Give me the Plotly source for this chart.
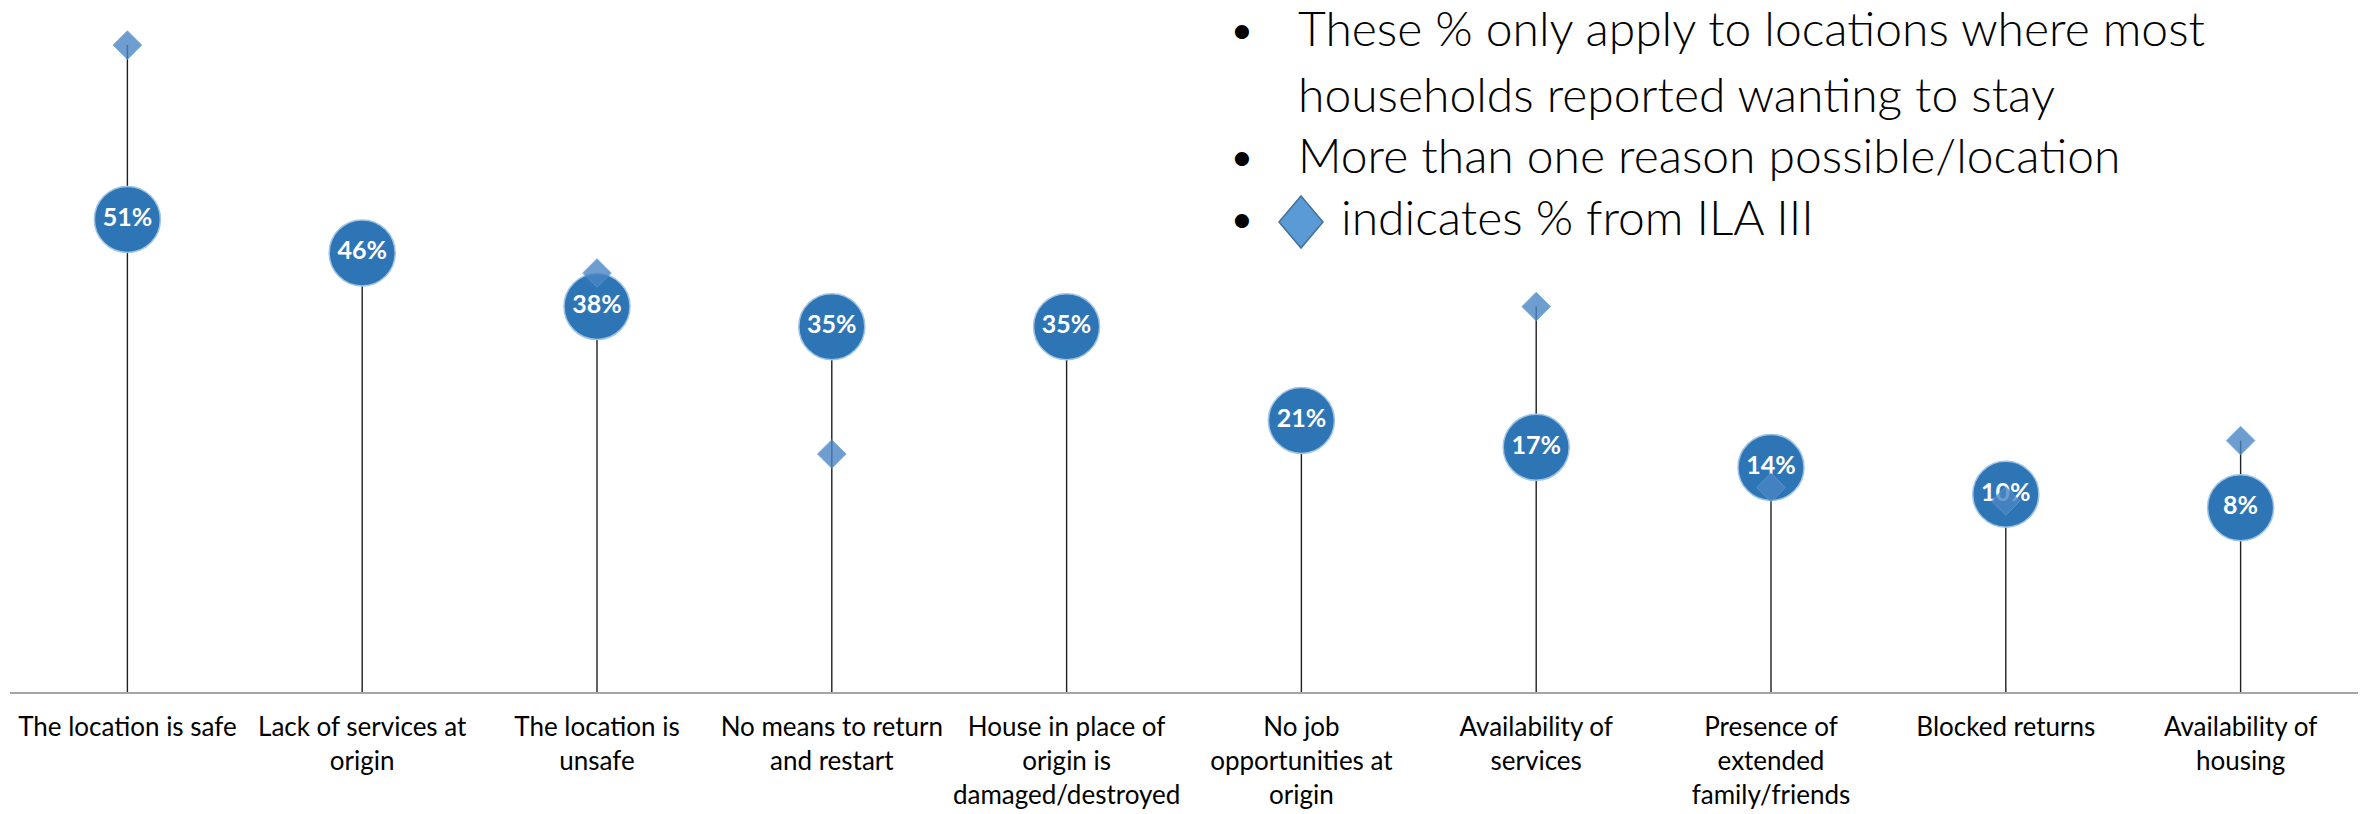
import plotly.graph_objects as go

categories = [
    "The location is safe",
    "Lack of services at<br>origin",
    "The location is<br>unsafe",
    "No means to return<br>and restart",
    "House in place of<br>origin is<br>damaged/destroyed",
    "No job<br>opportunities at<br>origin",
    "Availability of<br>services",
    "Presence of<br>extended<br>family/friends",
    "Blocked returns",
    "Availability of<br>housing",
]
current_pct = [51, 46, 38, 35, 35, 21, 17, 14, 10, 8]
ila3_pct = [77, None, 43, 16, None, None, 38, 11, 9, 18]

notes = [
    "These % only apply to locations where most",
    "households reported wanting to stay",
    "More than one reason possible/location",
    "indicates % from ILA III",
]

Y_MIN, Y_MAX = -19.5, 80
W, H = 2369, 814
ML, MR, MT, MB = 2, 19, 17, 130
PAGE_OFF = 8  # page body margin


def xp(px):
    return (px - PAGE_OFF - ML) / (W - ML - MR)


def yp(py):
    return (H - MB - (py - PAGE_OFF)) / (H - MT - MB)


# stems run from the axis up to the higher of the two marks
stem_x, stem_y = [], []
for cat, cur, old in zip(categories, current_pct, ila3_pct):
    top = max(cur, old) if old is not None else cur
    stem_x += [cat, cat, None]
    stem_y += [Y_MIN, top, None]

fig = go.Figure()
fig.add_trace(go.Scatter(
    x=stem_x, y=stem_y, mode="lines",
    line=dict(color="#1f1f1f", width=1.4),
    hoverinfo="skip", showlegend=False,
))
fig.add_trace(go.Scatter(
    x=categories, y=current_pct, mode="markers+text",
    marker=dict(size=66, color="#2E75B6", line=dict(color="#9DC3E6", width=1.5)),
    text=[f"{v}%" for v in current_pct], textposition="middle center",
    textfont=dict(family="Lato", size=25, color="white", weight="bold"),
    showlegend=False,
))
fig.add_trace(go.Scatter(
    x=categories, y=ila3_pct, mode="markers",
    marker=dict(symbol="diamond", size=22, color="#4A85C4", opacity=0.8,
                line=dict(color="#5B9BD5", width=1)),
    showlegend=False,
))

ann = []
note_font = dict(family="Lato", size=48, color="black", weight=300)
rows = [(1296, 28, notes[0], True), (1296, 94, notes[1], False),
        (1296, 154, notes[2], True), (1339, 216, notes[3], True)]
for x0, y0, txt, bullet in rows:
    ann.append(dict(x=xp(x0), y=yp(y0), xref="paper", yref="paper", text=txt,
                    showarrow=False, xanchor="left", yanchor="middle", font=note_font))
    if bullet:
        ann.append(dict(x=xp(1242), y=yp(y0), xref="paper", yref="paper", text="•",
                        showarrow=False, xanchor="center", yanchor="middle", font=note_font))

fig.update_layout(
    width=W, height=H,
    margin=dict(l=ML, r=MR, t=MT, b=MB),
    paper_bgcolor="white", plot_bgcolor="white",
    xaxis=dict(type="category", range=[-0.5, 9.5], showline=True, linecolor="#A6A6A6",
               linewidth=2, ticks="", showgrid=False, zeroline=False, ticklabelstandoff=11,
               tickfont=dict(family="Lato", size=26, color="black")),
    yaxis=dict(range=[Y_MIN, Y_MAX], visible=False),
    annotations=ann,
    shapes=[dict(type="path", xref="paper", yref="paper", xsizemode="pixel", ysizemode="pixel",
                 xanchor=xp(1301), yanchor=yp(222), path="M0,26 L22,0 L0,-26 L-22,0 Z",
                 fillcolor="#5B9BD5", line=dict(color="#41719C", width=1.5))],
)

fig.write_html("out.html", config={"displayModeBar": False})
